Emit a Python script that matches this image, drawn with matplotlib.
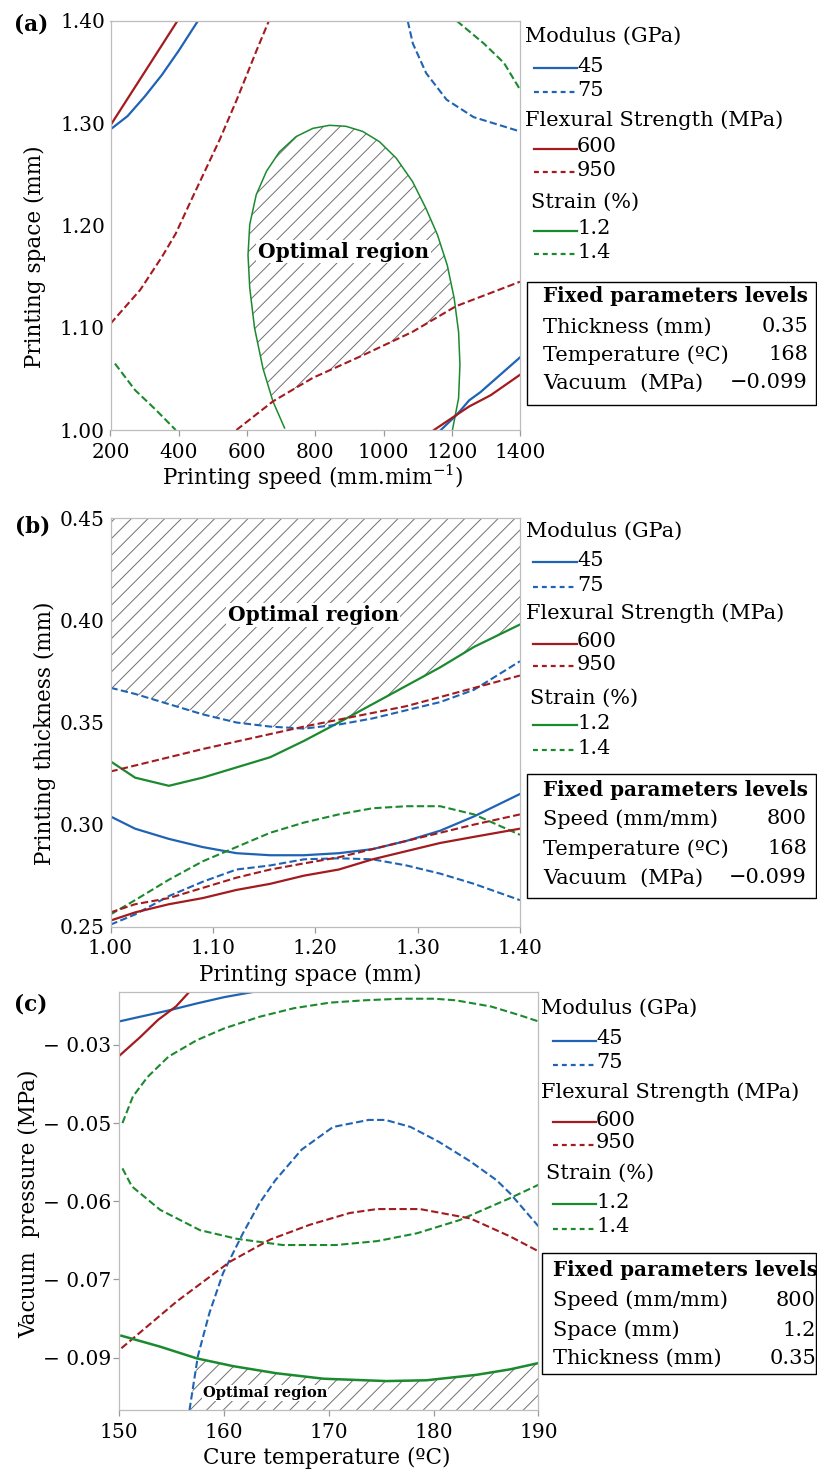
import numpy as np
import matplotlib
matplotlib.use("Agg")
import matplotlib.pyplot as plt
from matplotlib.patches import Polygon, Rectangle
from matplotlib.lines import Line2D

plt.rcParams['font.family'] = ['DejaVu Serif']
plt.rcParams['mathtext.fontset'] = 'dejavuserif'
plt.rcParams['hatch.linewidth'] = 0.7
plt.rcParams['hatch.color'] = '#707070'

# ---------------- data: panel (a) speed vs space ----------------
a_mod45_x = [200, 250, 300, 350, 400, 456]
a_mod45_y = [1.294, 1.307, 1.326, 1.347, 1.371, 1.400]
a_mod45b_x = [1168, 1215, 1251, 1284, 1400]
a_mod45b_y = [1.000, 1.015, 1.029, 1.037, 1.071]
a_mod75_x = [1071, 1086, 1125, 1185, 1264, 1400]
a_mod75_y = [1.400, 1.378, 1.349, 1.323, 1.306, 1.292]
a_fs600_x = [200, 300, 396]
a_fs600_y = [1.298, 1.350, 1.400]
a_fs600b_x = [1148, 1197, 1251, 1314, 1400]
a_fs600b_y = [1.000, 1.011, 1.023, 1.034, 1.054]
a_fs950_x = [200, 287, 352, 391, 441, 520, 570, 629, 664]
a_fs950_y = [1.104, 1.137, 1.170, 1.192, 1.228, 1.284, 1.323, 1.372, 1.400]
a_fs950b_x = [569, 676, 793, 939, 1085, 1212, 1251, 1400]
a_fs950b_y = [1.000, 1.028, 1.051, 1.073, 1.096, 1.121, 1.126, 1.145]
a_str12_x = [710, 676, 647, 622, 608, 603, 608, 627, 657, 695, 744, 793, 842,
             890, 939, 988, 1037, 1085, 1124, 1158, 1187, 1207, 1220, 1224, 1220, 1202]
a_str12_y = [1.002, 1.028, 1.060, 1.100, 1.139, 1.171, 1.201, 1.230, 1.253, 1.272,
             1.287, 1.295, 1.298, 1.297, 1.292, 1.282, 1.266, 1.243, 1.217, 1.191,
             1.161, 1.129, 1.096, 1.064, 1.031, 1.000]
a_str14_x = [1215, 1294, 1353, 1400]
a_str14_y = [1.400, 1.378, 1.359, 1.333]
a_str14b_x = [213, 272, 332, 391]
a_str14b_y = [1.065, 1.039, 1.020, 1.000]

# ---------------- data: panel (b) space vs thickness ----------------
b_x = [1.000, 1.024, 1.057, 1.090, 1.123, 1.156, 1.189, 1.223, 1.256, 1.289, 1.322, 1.355, 1.400]
b_str12_y = [0.331, 0.323, 0.319, 0.323, 0.328, 0.333, 0.341, 0.350, 0.359, 0.368, 0.377, 0.387, 0.398]
b_mod75_y = [0.367, 0.364, 0.359, 0.354, 0.350, 0.348, 0.347, 0.349, 0.352, 0.356, 0.360, 0.366, 0.380]
b_mod45_y = [0.304, 0.298, 0.293, 0.289, 0.286, 0.285, 0.285, 0.286, 0.288, 0.292, 0.297, 0.304, 0.315]
b_str14_y = [0.256, 0.263, 0.273, 0.282, 0.289, 0.296, 0.301, 0.305, 0.308, 0.309, 0.309, 0.305, 0.295]
b_mod75b_y = [0.251, 0.256, 0.265, 0.272, 0.278, 0.280, 0.283, 0.2835, 0.283, 0.280, 0.276, 0.271, 0.263]
b_fs950b_y = [0.257, 0.261, 0.264, 0.269, 0.274, 0.278, 0.281, 0.284, 0.288, 0.292, 0.296, 0.300, 0.305]
b_fs600_y = [0.253, 0.257, 0.261, 0.264, 0.268, 0.271, 0.275, 0.278, 0.283, 0.287, 0.291, 0.294, 0.298]
b_fs950_x = [1.000, 1.090, 1.189, 1.289, 1.400]
b_fs950_y = [0.326, 0.337, 0.348, 0.358, 0.373]

# ---------------- data: panel (c) temperature vs vacuum ----------------
c_ticks = [-0.04, -0.05, -0.06, -0.07, -0.08]
c_ticklabels = ['\u2212 0.03', '\u2212 0.05', '\u2212 0.06', '\u2212 0.07', '\u2212 0.09']
c_mod45_x = [150.0, 152.0, 154.7, 157.4, 160.0, 162.9]
c_mod45_y = [-0.0370, -0.0364, -0.0356, -0.0347, -0.0339, -0.0332]
c_fs600_x = [150.0, 152.0, 153.7, 155.4, 156.7]
c_fs600_y = [-0.0414, -0.0390, -0.0368, -0.0351, -0.0332]
c_str14_x = [150.3, 151.3, 152.7, 154.7, 157.4, 160.0, 163.4, 166.7, 170.1, 173.4,
             176.8, 180.1, 182.1, 185.5, 188.2, 190.0]
c_str14_y = [-0.0500, -0.0466, -0.0441, -0.0415, -0.0394, -0.0379, -0.0364, -0.0353,
             -0.0346, -0.0343, -0.0341, -0.0341, -0.0343, -0.0351, -0.0362, -0.0370]
c_str14b_x = [150.3, 151.2, 153.9, 157.7, 161.2, 165.6, 170.7, 174.6, 178.4, 182.5, 187.3, 190.0]
c_str14b_y = [-0.0558, -0.0581, -0.0611, -0.0637, -0.0648, -0.0656, -0.0656, -0.0651,
              -0.0641, -0.0624, -0.0596, -0.0579]
c_mod75_x = [156.7, 157.5, 158.6, 159.9, 161.8, 163.4, 164.9, 167.4, 170.4, 173.8,
             175.4, 177.8, 180.5, 183.5, 186.0, 187.3, 190.0]
c_mod75_y = [-0.0867, -0.0798, -0.0743, -0.0692, -0.0641, -0.0602, -0.0573, -0.0534,
             -0.0505, -0.0496, -0.0496, -0.0505, -0.0524, -0.0549, -0.0573, -0.0590, -0.0632]
c_fs950_x = [150.2, 155.5, 160.6, 164.4, 168.2, 172.0, 174.6, 178.7, 183.5, 187.3, 190.0]
c_fs950_y = [-0.0788, -0.0728, -0.0677, -0.0649, -0.0630, -0.0615, -0.0610, -0.0610,
             -0.0622, -0.0645, -0.0664]
c_str12_x = [150.2, 153.9, 157.4, 160.9, 165.0, 169.5, 175.5, 179.3, 184.1, 187.3, 190.0]
c_str12_y = [-0.0772, -0.0786, -0.0801, -0.0811, -0.0820, -0.0827, -0.0830, -0.0829,
             -0.0822, -0.0815, -0.0807]

# legend text
groups = [('Modulus (GPa)', ['45', '75']),
          ('Flexural Strength (MPa)', ['600', '950']),
          ('Strain (%)', ['1.2', '1.4'])]
fixed_title = 'Fixed parameters levels'
a_fixed = [('Thickness (mm)', '0.35'), ('Temperature (\u00baC)', '168'), ('Vacuum  (MPa)', '\u22120.099')]
b_fixed = [('Speed (mm/mm)', '800'), ('Temperature (\u00baC)', '168'), ('Vacuum  (MPa)', '\u22120.099')]
c_fixed = [('Speed (mm/mm)', '800'), ('Space (mm)', '1.2'), ('Thickness (mm)', '0.35')]

BLUE = '#1f63b5'
RED = '#a31a1f'
GREEN = '#1b8a2e'
COLS = [BLUE, RED, GREEN]
DASH = (0, (3.5, 1.6))
GREY = '#bdbdbd'

W, H = 817, 1472
fig = plt.figure(figsize=(W / 100, H / 100), dpi=100)


def fy(y):
    return 1 - y / H


def fx(x):
    return x / W


def make_axes(l, t, r, b):
    ax = fig.add_axes([l / W, 1 - b / H, (r - l) / W, (b - t) / H])
    for s in ax.spines.values():
        s.set_color(GREY)
        s.set_linewidth(0.9)
    ax.tick_params(axis='both', labelsize=14.5, color='#9a9a9a', width=0.9)
    ax.tick_params(axis='x', length=4, pad=5)
    return ax


def lbl(ax, t, b, l, r, xl, yl, xc, yc, xyc):
    ax.set_xlabel(xl, fontsize=15.5)
    ax.set_ylabel(yl, fontsize=15.5)
    ax.xaxis.set_label_coords((xc[0] - l) / (r - l), (b - xc[1]) / (b - t))
    ax.xaxis.label.set_va('center')
    ax.yaxis.set_label_coords((xyc[0] - l) / (r - l), (b - xyc[1]) / (b - t))
    ax.yaxis.label.set_va('center')


def legend(ys, xh, xs, xl0, xl1, xbox, xrow, xval, box, rows):
    k = 0
    for gi, (head, items) in enumerate(groups):
        x = xs if gi == 2 else xh
        fig.text(fx(x), fy(ys[k]), head, fontsize=15, ha='left', va='center')
        k += 1
        for ii, it in enumerate(items):
            y = ys[k]
            fig.add_artist(Line2D([fx(xl0), fx(xl1)], [fy(y + 2), fy(y + 2)],
                                  transform=fig.transFigure, color=COLS[gi], lw=1.6,
                                  ls='-' if ii == 0 else (0, (2.2, 1.8))))
            fig.text(fx(xl1), fy(y), it, fontsize=15, ha='left', va='center')
            k += 1
    fig.add_artist(Rectangle((fx(xbox), fy(box[1])), (816 - xbox) / W, (box[1] - box[0]) / H,
                             transform=fig.transFigure, fill=False, ec='black', lw=1.0))
    fig.text(fx(xrow), fy(box[2]), fixed_title, fontsize=14.3, fontweight='bold',
             ha='left', va='center')
    for (name, val), y in zip(rows, box[3:]):
        fig.text(fx(xrow), fy(y), name, fontsize=15, ha='left', va='center')
        fig.text(fx(xval), fy(y), val, fontsize=15, ha='right', va='center')


def opt_text(ax, x, y, size):
    ax.text(x, y, 'Optimal region', fontsize=size, fontweight='bold', ha='center', va='center',
            bbox=dict(boxstyle='square,pad=0.08', fc='white', ec='none'), zorder=5)


# ======================= panel (a) =======================
la, ta, ra, ba = 110.5, 21, 520, 430
ax = make_axes(la, ta, ra, ba)
ax.set_xlim(200, 1400)
ax.set_ylim(1.0, 1.4)
ax.set_xticks([200, 400, 600, 800, 1000, 1200, 1400])
ax.set_yticks([1.0, 1.1, 1.2, 1.3, 1.4])
ax.set_yticklabels(['1.00', '1.10', '1.20', '1.30', '1.40'])
ax.tick_params(axis='y', length=0, pad=4)

ell = Polygon(np.column_stack([a_str12_x, a_str12_y]), closed=True, fill=False,
              hatch='//', ec='#707070', lw=0)
ax.add_patch(ell)
clip_pts = np.vstack([np.column_stack([a_fs950b_x, a_fs950b_y]), [[1400, 1.5], [560, 1.5]]])
clip = Polygon(clip_pts, closed=True, transform=ax.transData)
ell.set_clip_path(clip)

ax.plot(a_str12_x, a_str12_y, color=GREEN, lw=1.1)
ax.plot(a_mod45_x, a_mod45_y, color=BLUE, lw=1.6)
ax.plot(a_mod45b_x, a_mod45b_y, color=BLUE, lw=1.6)
ax.plot(a_mod75_x, a_mod75_y, color=BLUE, lw=1.5, ls=DASH)
ax.plot(a_fs600_x, a_fs600_y, color=RED, lw=1.6)
ax.plot(a_fs600b_x, a_fs600b_y, color=RED, lw=1.6)
ax.plot(a_fs950_x, a_fs950_y, color=RED, lw=1.5, ls=DASH)
ax.plot(a_fs950b_x, a_fs950b_y, color=RED, lw=1.5, ls=DASH)
ax.plot(a_str14_x, a_str14_y, color=GREEN, lw=1.5, ls=DASH)
ax.plot(a_str14b_x, a_str14b_y, color=GREEN, lw=1.5, ls=DASH)
opt_text(ax, 883, 1.1744, 14.5)
lbl(ax, ta, ba, la, ra, 'Printing speed (mm.mim$^{-1}$)', 'Printing space (mm)',
    (313, 477), None, (35, 257))
fig.text(fx(31), fy(25), '(a)', fontsize=15.5, fontweight='bold', ha='center', va='center')
legend([36, 66, 90, 120, 147, 170, 202, 229, 252], 525, 531, 534, 577, 527, 543, 808,
       [282, 405, 296, 327, 355, 383], a_fixed)

# ======================= panel (b) =======================
lb_, tb, rb, bb = 110.5, 518.3, 520, 926.7
ax = make_axes(lb_, tb, rb, bb)
ax.set_xlim(1.0, 1.4)
ax.set_ylim(0.25, 0.45)
ax.set_xticks([1.0, 1.1, 1.2, 1.3, 1.4])
ax.set_xticklabels(['1.00', '1.10', '1.20', '1.30', '1.40'])
ax.set_yticks([0.25, 0.30, 0.35, 0.40, 0.45])
ax.set_yticklabels(['0.25', '0.30', '0.35', '0.40', '0.45'])
ax.tick_params(axis='y', length=0, pad=4)

xg = np.linspace(1.0, 1.4, 400)
lower = np.maximum(np.interp(xg, b_x, b_mod75_y), np.interp(xg, b_x, b_str12_y))
ax.fill_between(xg, lower, 0.45, facecolor='none', hatch='//', edgecolor='#707070', lw=0)

ax.plot(b_x, b_str12_y, color=GREEN, lw=1.6)
ax.plot(b_x, b_mod75_y, color=BLUE, lw=1.5, ls=DASH)
ax.plot(b_fs950_x, b_fs950_y, color=RED, lw=1.5, ls=DASH)
ax.plot(b_x, b_mod45_y, color=BLUE, lw=1.6)
ax.plot(b_x, b_str14_y, color=GREEN, lw=1.5, ls=DASH)
ax.plot(b_x, b_mod75b_y, color=BLUE, lw=1.5, ls=DASH)
ax.plot(b_x, b_fs950b_y, color=RED, lw=1.5, ls=DASH)
ax.plot(b_x, b_fs600_y, color=RED, lw=1.6)
opt_text(ax, 1.198, 0.4026, 14.5)
lbl(ax, tb, bb, lb_, rb, 'Printing space (mm)', 'Printing thickness (mm)',
    (310, 975), None, (45, 733.5))
fig.text(fx(33), fy(526), '(b)', fontsize=15.5, fontweight='bold', ha='center', va='center')
legend([531.7, 560, 585, 613, 641.7, 664, 698, 723, 748], 526, 530, 533, 577, 527, 543, 807,
       [774, 898, 790, 819, 849, 878], b_fixed)

# ======================= panel (c) =======================
lc, tc, rc, bc = 119.3, 991.7, 538.4, 1410
ax = make_axes(lc, tc, rc, bc)
ax.set_xlim(150, 190)
ax.set_ylim(-0.0867, -0.0332)
ax.set_xticks([150, 160, 170, 180, 190])
ax.set_yticks(c_ticks)
ax.set_yticklabels(c_ticklabels)
ax.tick_params(axis='y', length=4, pad=2)

xg = np.linspace(156.7, 190, 400)
upper = np.minimum(np.interp(xg, c_str12_x, c_str12_y), np.interp(xg, c_mod75_x, c_mod75_y))
ax.fill_between(xg, -0.0867, upper, facecolor='none', hatch='//', edgecolor='#707070', lw=0)

ax.plot(c_mod45_x, c_mod45_y, color=BLUE, lw=1.6)
ax.plot(c_fs600_x, c_fs600_y, color=RED, lw=1.6)
ax.plot(c_str14_x, c_str14_y, color=GREEN, lw=1.5, ls=DASH)
ax.plot(c_str14b_x, c_str14b_y, color=GREEN, lw=1.5, ls=DASH)
ax.plot(c_mod75_x, c_mod75_y, color=BLUE, lw=1.5, ls=DASH)
ax.plot(c_fs950_x, c_fs950_y, color=RED, lw=1.5, ls=DASH)
ax.plot(c_str12_x, c_str12_y, color=GREEN, lw=1.8)
opt_text(ax, 163.9, -0.0845, 10.5)
lbl(ax, tc, bc, lc, rc, 'Cure temperature (\u00baC)', 'Vacuum  pressure (MPa)',
    (327, 1458), None, (29, 1204))
fig.text(fx(31), fy(1005), '(c)', fontsize=15.5, fontweight='bold', ha='center', va='center')
legend([1008, 1039, 1063, 1092, 1120, 1143, 1173, 1202, 1227], 541, 546, 553, 596, 542, 553, 816,
       [1252.7, 1374, 1270, 1300, 1330, 1358], c_fixed)

fig.savefig('out.png', dpi=100)
